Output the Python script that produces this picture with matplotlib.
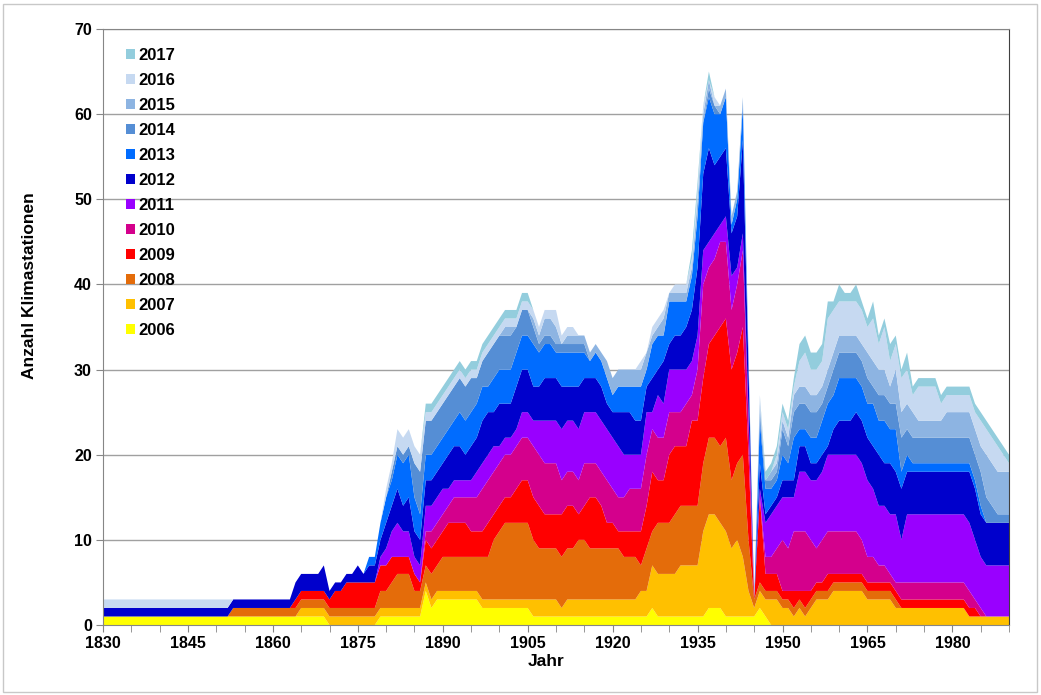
import numpy as np
import matplotlib
matplotlib.use('Agg')
import matplotlib.pyplot as plt
from matplotlib.patches import Patch, Rectangle

plt.rcParams['font.family'] = ['Liberation Sans', 'DejaVu Sans']

# one value per year 1830..1990, ten years per row
years = list(range(1830, 1991))

s2006 = [1, 1, 1, 1, 1, 1, 1, 1, 1, 1,
         1, 1, 1, 1, 1, 1, 1, 1, 1, 1,
         1, 1, 1, 1, 1, 1, 1, 1, 1, 1,
         1, 1, 1, 1, 1, 1, 1, 1, 1, 1,
         0, 0, 0, 0, 0, 0, 0, 0, 0, 1,
         1, 1, 1, 1, 1, 1, 1, 4, 2, 3,
         3, 3, 3, 3, 3, 3, 3, 2, 2, 2,
         2, 2, 2, 2, 2, 2, 1, 1, 1, 1,
         1, 1, 1, 1, 1, 1, 1, 1, 1, 1,
         1, 1, 1, 1, 1, 1, 1, 2, 1, 1,
         1, 1, 1, 1, 1, 1, 1, 2, 2, 2,
         1, 1, 1, 1, 1, 1, 2, 1, 0, 0,
         0, 0, 0, 0, 0, 0, 0, 0, 0, 0,
         0, 0, 0, 0, 0, 0, 0, 0, 0, 0,
         0, 0, 0, 0, 0, 0, 0, 0, 0, 0,
         0, 0, 0, 0, 0, 0, 0, 0, 0, 0,
         0]

s2007 = [0, 0, 0, 0, 0, 0, 0, 0, 0, 0,
         0, 0, 0, 0, 0, 0, 0, 0, 0, 0,
         0, 0, 0, 0, 0, 0, 0, 0, 0, 0,
         0, 0, 0, 0, 0, 1, 1, 1, 1, 1,
         1, 1, 1, 1, 1, 1, 1, 1, 1, 1,
         1, 1, 1, 1, 1, 1, 1, 1, 1, 1,
         1, 1, 1, 1, 1, 1, 1, 1, 1, 1,
         1, 1, 1, 1, 1, 1, 2, 2, 2, 2,
         2, 1, 2, 2, 2, 2, 2, 2, 2, 2,
         2, 2, 2, 2, 2, 3, 3, 5, 5, 5,
         5, 5, 6, 6, 6, 6, 10, 11, 11, 10,
         10, 8, 9, 7, 3, 1, 2, 2, 3, 3,
         2, 2, 1, 2, 1, 2, 3, 3, 3, 4,
         4, 4, 4, 4, 4, 3, 3, 3, 3, 3,
         2, 2, 2, 2, 2, 2, 2, 2, 2, 2,
         2, 2, 2, 1, 1, 1, 1, 1, 1, 1,
         1]

s2008 = [0, 0, 0, 0, 0, 0, 0, 0, 0, 0,
         0, 0, 0, 0, 0, 0, 0, 0, 0, 0,
         0, 0, 0, 1, 1, 1, 1, 1, 1, 1,
         1, 1, 1, 1, 1, 1, 1, 1, 1, 1,
         1, 1, 1, 1, 1, 1, 1, 1, 1, 2,
         2, 3, 4, 4, 4, 2, 2, 2, 3, 3,
         4, 4, 4, 4, 4, 4, 4, 5, 5, 7,
         8, 9, 9, 9, 9, 9, 7, 6, 6, 6,
         6, 6, 6, 6, 7, 7, 6, 6, 6, 6,
         6, 6, 5, 5, 5, 3, 5, 4, 6, 6,
         6, 7, 7, 7, 7, 7, 8, 9, 9, 9,
         11, 8, 9, 12, 6, 1, 1, 1, 1, 1,
         1, 1, 1, 1, 1, 1, 1, 1, 1, 1,
         1, 1, 1, 1, 1, 1, 1, 1, 1, 1,
         1, 0, 0, 0, 0, 0, 0, 0, 0, 0,
         0, 0, 0, 0, 0, 0, 0, 0, 0, 0,
         0]

s2009 = [0, 0, 0, 0, 0, 0, 0, 0, 0, 0,
         0, 0, 0, 0, 0, 0, 0, 0, 0, 0,
         0, 0, 0, 0, 0, 0, 0, 0, 0, 0,
         0, 0, 0, 0, 1, 1, 1, 1, 1, 1,
         1, 2, 2, 3, 3, 3, 3, 3, 3, 3,
         3, 3, 2, 2, 2, 2, 1, 3, 3, 3,
         3, 4, 4, 4, 4, 3, 3, 3, 4, 3,
         3, 3, 3, 4, 5, 5, 5, 5, 4, 4,
         4, 5, 5, 5, 3, 4, 6, 6, 5, 3,
         3, 2, 3, 3, 3, 4, 5, 7, 5, 5,
         8, 8, 7, 7, 10, 10, 10, 11, 12, 14,
         14, 13, 13, 15, 10, 0, 10, 2, 2, 2,
         1, 1, 2, 1, 2, 1, 1, 1, 2, 1,
         1, 1, 1, 1, 1, 1, 1, 1, 1, 1,
         1, 1, 1, 1, 1, 1, 1, 1, 1, 1,
         1, 1, 1, 1, 1, 0, 0, 0, 0, 0,
         0]

s2010 = [0, 0, 0, 0, 0, 0, 0, 0, 0, 0,
         0, 0, 0, 0, 0, 0, 0, 0, 0, 0,
         0, 0, 0, 0, 0, 0, 0, 0, 0, 0,
         0, 0, 0, 0, 0, 0, 0, 0, 0, 0,
         0, 0, 0, 0, 0, 0, 0, 0, 0, 0,
         0, 0, 0, 0, 0, 0, 0, 1, 2, 2,
         2, 2, 3, 3, 3, 4, 4, 5, 5, 5,
         5, 5, 5, 5, 5, 5, 6, 6, 6, 6,
         6, 4, 4, 4, 4, 5, 4, 4, 4, 5,
         4, 4, 4, 5, 5, 5, 6, 5, 5, 5,
         5, 4, 4, 5, 3, 6, 11, 9, 9, 10,
         9, 7, 8, 9, 4, 0, 0, 2, 2, 3,
         6, 5, 7, 7, 7, 6, 4, 5, 5, 5,
         5, 5, 5, 5, 4, 3, 3, 2, 2, 1,
         1, 2, 2, 2, 2, 2, 2, 2, 2, 2,
         2, 2, 2, 2, 1, 1, 0, 0, 0, 0,
         0]

s2011 = [0, 0, 0, 0, 0, 0, 0, 0, 0, 0,
         0, 0, 0, 0, 0, 0, 0, 0, 0, 0,
         0, 0, 0, 0, 0, 0, 0, 0, 0, 0,
         0, 0, 0, 0, 0, 0, 0, 0, 0, 0,
         0, 0, 0, 0, 0, 0, 0, 0, 0, 1,
         2, 3, 4, 3, 3, 2, 2, 3, 3, 3,
         3, 2, 2, 2, 2, 2, 3, 3, 3, 3,
         2, 2, 2, 2, 3, 3, 3, 4, 5, 5,
         5, 6, 6, 6, 6, 6, 6, 6, 6, 6,
         6, 6, 5, 4, 4, 4, 5, 2, 5, 4,
         5, 5, 5, 4, 4, 4, 4, 3, 3, 2,
         3, 4, 2, 2, 1, 0, 1, 4, 5, 5,
         5, 6, 4, 7, 7, 7, 8, 8, 9, 9,
         9, 9, 9, 9, 9, 9, 8, 7, 7, 7,
         8, 5, 8, 8, 8, 8, 8, 8, 8, 8,
         8, 8, 8, 8, 7, 6, 6, 6, 6, 6,
         6]

s2012 = [1, 1, 1, 1, 1, 1, 1, 1, 1, 1,
         1, 1, 1, 1, 1, 1, 1, 1, 1, 1,
         1, 1, 1, 1, 1, 1, 1, 1, 1, 1,
         1, 1, 1, 1, 2, 2, 2, 2, 2, 3,
         1, 1, 1, 1, 1, 2, 1, 2, 2, 2,
         3, 3, 4, 3, 4, 3, 3, 3, 3, 3,
         3, 4, 4, 4, 3, 4, 4, 5, 5, 4,
         5, 4, 4, 5, 5, 5, 4, 4, 5, 5,
         5, 5, 4, 4, 5, 4, 4, 4, 4, 3,
         3, 4, 5, 5, 4, 4, 3, 4, 3, 5,
         3, 4, 4, 5, 6, 8, 9, 11, 8, 8,
         8, 5, 6, 11, 5, 0, 3, 1, 1, 1,
         2, 2, 2, 3, 3, 2, 2, 2, 1, 3,
         4, 4, 4, 5, 5, 5, 5, 6, 5, 6,
         5, 6, 5, 5, 5, 5, 5, 5, 5, 5,
         5, 5, 5, 6, 6, 5, 5, 5, 5, 5,
         5]

s2013 = [0, 0, 0, 0, 0, 0, 0, 0, 0, 0,
         0, 0, 0, 0, 0, 0, 0, 0, 0, 0,
         0, 0, 0, 0, 0, 0, 0, 0, 0, 0,
         0, 0, 0, 0, 0, 0, 0, 0, 0, 0,
         0, 0, 0, 0, 0, 0, 0, 1, 1, 2,
         3, 3, 4, 5, 5, 4, 3, 3, 3, 3,
         3, 3, 3, 4, 4, 4, 4, 4, 3, 4,
         4, 4, 4, 4, 4, 4, 5, 4, 4, 4,
         3, 4, 4, 4, 4, 3, 2, 3, 3, 3,
         2, 3, 3, 3, 4, 4, 2, 4, 4, 3,
         5, 4, 4, 3, 4, 6, 6, 6, 6, 5,
         6, 1, 2, 4, 1, 0, 5, 3, 2, 2,
         3, 2, 5, 2, 2, 3, 3, 4, 5, 4,
         5, 5, 5, 4, 4, 4, 5, 4, 5, 4,
         5, 2, 2, 1, 1, 1, 1, 1, 1, 1,
         1, 1, 1, 1, 1, 1, 0, 0, 0, 0,
         0]

s2014 = [0, 0, 0, 0, 0, 0, 0, 0, 0, 0,
         0, 0, 0, 0, 0, 0, 0, 0, 0, 0,
         0, 0, 0, 0, 0, 0, 0, 0, 0, 0,
         0, 0, 0, 0, 0, 0, 0, 0, 0, 0,
         0, 0, 0, 0, 0, 0, 0, 0, 0, 0,
         0, 1, 1, 1, 1, 4, 5, 4, 4, 4,
         4, 4, 4, 4, 4, 4, 3, 3, 4, 4,
         4, 4, 4, 3, 3, 3, 2, 1, 1, 1,
         1, 1, 1, 1, 1, 1, 0, 0, 0, 0,
         0, 0, 0, 0, 0, 0, 0, 0, 0, 0,
         0, 0, 0, 0, 0, 0, 0, 1, 1, 0,
         0, 0, 0, 0, 0, 0, 1, 1, 1, 1,
         3, 2, 3, 3, 3, 3, 3, 2, 2, 3,
         3, 3, 3, 3, 3, 3, 2, 3, 3, 3,
         3, 4, 3, 3, 3, 3, 3, 3, 3, 3,
         3, 3, 3, 3, 3, 4, 3, 2, 1, 1,
         1]

s2015 = [0, 0, 0, 0, 0, 0, 0, 0, 0, 0,
         0, 0, 0, 0, 0, 0, 0, 0, 0, 0,
         0, 0, 0, 0, 0, 0, 0, 0, 0, 0,
         0, 0, 0, 0, 0, 0, 0, 0, 0, 0,
         0, 0, 0, 0, 0, 0, 0, 0, 0, 0,
         0, 0, 0, 0, 0, 0, 0, 0, 0, 0,
         0, 0, 0, 0, 0, 0, 0, 0, 0, 0,
         0, 1, 1, 0, 0, 0, 1, 1, 2, 2,
         2, 0, 1, 1, 1, 1, 1, 1, 1, 2,
         2, 2, 2, 2, 2, 2, 2, 1, 1, 2,
         1, 1, 1, 1, 1, 2, 1, 1, 0, 1,
         1, 1, 1, 1, 1, 0, 1, 0, 1, 1,
         1, 1, 2, 2, 2, 2, 2, 2, 2, 2,
         2, 2, 2, 2, 2, 3, 3, 3, 3, 2,
         4, 3, 3, 3, 2, 2, 2, 2, 2, 3,
         3, 3, 3, 3, 3, 3, 5, 5, 5, 5,
         5]

s2016 = [1, 1, 1, 1, 1, 1, 1, 1, 1, 1,
         1, 1, 1, 1, 1, 1, 1, 1, 1, 1,
         1, 1, 1, 0, 0, 0, 0, 0, 0, 0,
         0, 0, 0, 0, 0, 0, 0, 0, 0, 0,
         0, 0, 0, 0, 0, 0, 0, 0, 0, 0,
         1, 1, 2, 2, 2, 2, 2, 1, 1, 1,
         1, 1, 1, 1, 1, 1, 1, 1, 1, 1,
         1, 1, 1, 1, 1, 1, 1, 1, 1, 1,
         2, 1, 1, 1, 0, 0, 0, 0, 0, 0,
         0, 0, 0, 0, 0, 1, 0, 1, 1, 1,
         0, 1, 1, 1, 1, 1, 1, 0, 1, 0,
         0, 0, 0, 0, 0, 0, 1, 0, 0, 1,
         1, 1, 1, 3, 4, 3, 3, 3, 6, 5,
         4, 4, 4, 4, 4, 3, 5, 3, 5, 3,
         3, 4, 4, 2, 4, 4, 4, 4, 2, 2,
         2, 2, 2, 2, 2, 3, 3, 3, 3, 2,
         1]

s2017 = [0, 0, 0, 0, 0, 0, 0, 0, 0, 0,
         0, 0, 0, 0, 0, 0, 0, 0, 0, 0,
         0, 0, 0, 0, 0, 0, 0, 0, 0, 0,
         0, 0, 0, 0, 0, 0, 0, 0, 0, 0,
         0, 0, 0, 0, 0, 0, 0, 0, 0, 0,
         0, 0, 0, 0, 0, 0, 0, 1, 1, 1,
         1, 1, 1, 1, 1, 1, 1, 1, 1, 1,
         1, 1, 1, 1, 1, 1, 0, 0, 0, 0,
         0, 0, 0, 0, 0, 0, 0, 0, 0, 0,
         0, 0, 0, 0, 0, 0, 0, 0, 0, 0,
         0, 0, 0, 0, 1, 1, 0, 1, 0, 0,
         0, 0, 0, 0, 0, 0, 0, 1, 1, 1,
         1, 1, 1, 2, 2, 2, 2, 2, 2, 1,
         2, 1, 1, 2, 1, 1, 2, 1, 1, 2,
         1, 1, 2, 1, 1, 1, 1, 1, 1, 1,
         1, 1, 1, 1, 1, 1, 1, 1, 1, 1,
         1]

labels = ['2006', '2007', '2008', '2009', '2010', '2011',
          '2012', '2013', '2014', '2015', '2016', '2017']
colors = ['#FFFF00', '#FFC000', '#E46C0A', '#FF0000', '#D4008C', '#9900FF',
          '#0000CC', '#006CFF', '#558ED5', '#8DB4E2', '#C6D9F1', '#93CDDD']

series = [s2006, s2007, s2008, s2009, s2010, s2011,
          s2012, s2013, s2014, s2015, s2016, s2017]

fig = plt.figure(figsize=(10.41, 6.95), dpi=100)
ax = fig.add_axes([103 / 1041, 1 - 625 / 695, 906 / 1041, 596 / 695])

ax.stackplot(years, *series, colors=colors, linewidth=0)

ax.set_xlim(1830, 1990)
ax.set_ylim(0, 70)
ax.set_yticks(range(0, 71, 10))
ax.set_xticks(range(1830, 1981, 15))
ax.set_xticks(range(1830, 1991, 5), minor=True)
ax.yaxis.grid(True, color='#a0a0a0', linewidth=1)
ax.set_axisbelow(True)

ax.tick_params(axis='both', which='both', direction='out', length=5,
               color='#868686', labelsize=11.5, pad=3)
for lbl in ax.get_xticklabels() + ax.get_yticklabels():
    lbl.set_fontweight('bold')

for side in ['left', 'bottom', 'top']:
    ax.spines[side].set_color('#868686')
ax.spines['right'].set_color('#404040')

fig.text(30 / 1041, 1 - 286 / 695, 'Anzahl Klimastationen', rotation=90,
         ha='center', va='center', fontsize=12.5, fontweight='bold')
fig.text(546 / 1041, 1 - 662 / 695, 'Jahr', ha='center', va='center',
         fontsize=12.5, fontweight='bold')

handles = [Patch(facecolor=c, edgecolor='none') for c in colors]
leg = ax.legend(handles[::-1], labels[::-1], loc='upper left',
                bbox_to_anchor=(0.025, 0.968), frameon=False,
                prop={'weight': 'bold', 'size': 12},
                handlelength=0.55, handleheight=0.55, handletextpad=0.2,
                labelspacing=0.6, borderpad=0, borderaxespad=0)

fig.patches.append(Rectangle((0.003, 0.004), 0.993, 0.99, transform=fig.transFigure,
                             fill=False, edgecolor='#c8c8c8', linewidth=1))

fig.savefig('out.png', dpi=100)
